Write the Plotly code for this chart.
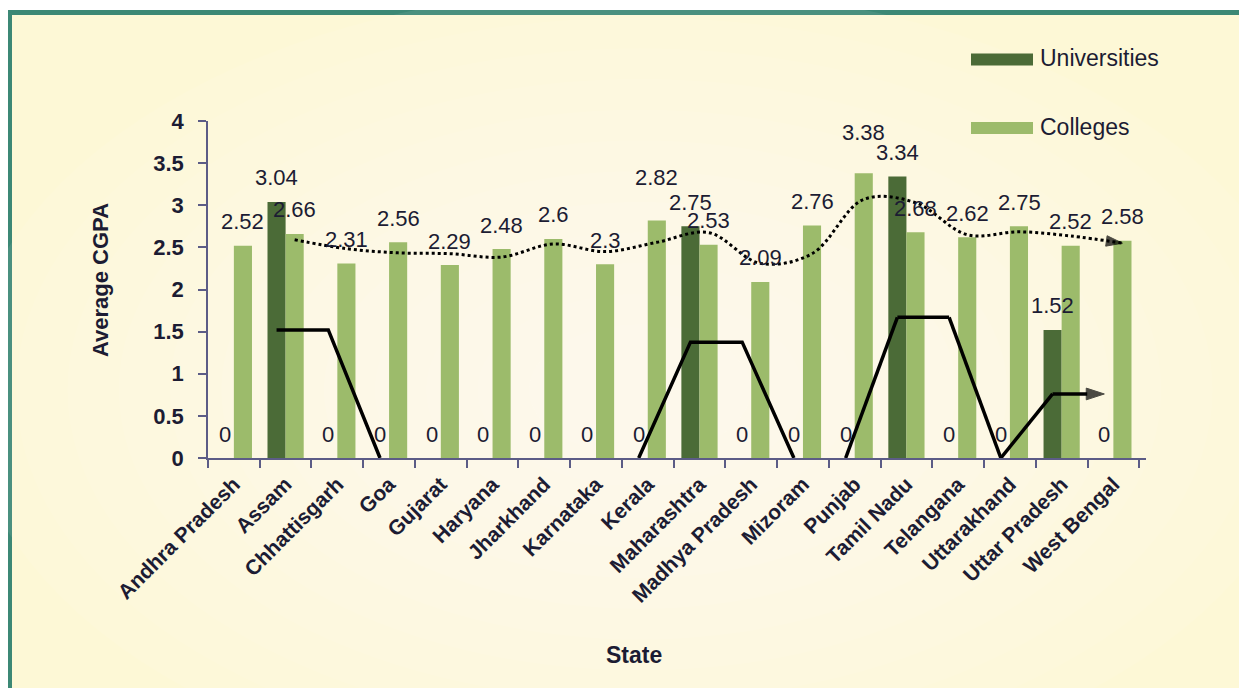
import pandas as pd
import plotly.graph_objects as go

# ---------------- data ----------------
states = ["Andhra Pradesh", "Assam", "Chhattisgarh", "Goa", "Gujarat", "Haryana",
          "Jharkhand", "Karnataka", "Kerala", "Maharashtra", "Madhya Pradesh",
          "Mizoram", "Punjab", "Tamil Nadu", "Telangana", "Uttarakhand",
          "Uttar Pradesh", "West Bengal"]
universities = [0, 3.04, 0, 0, 0, 0, 0, 0, 0, 2.75, 0, 0, 0, 3.34, 0, 0, 1.52, 0]
colleges = [2.52, 2.66, 2.31, 2.56, 2.29, 2.48, 2.6, 2.3, 2.82, 2.53, 2.09,
            2.76, 3.38, 2.68, 2.62, 2.75, 2.52, 2.58]
y_ticks = [0, 0.5, 1, 1.5, 2, 2.5, 3, 3.5, 4]
series_names = ["Universities", "Colleges"]

# 2-period moving-average trendlines
uni_ma = pd.Series(universities).rolling(2).mean()
col_ma = pd.Series(colleges).rolling(2).mean()


def to_list(s):
    return [None if pd.isna(v) else float(v) for v in s]


# ---------------- layout constants ----------------
OFF = 8                      # page margin of the html body
W, H = 1247 - OFF, 688 - OFF
ML, MR, MT, MB = 200, 101, 113, 230
PW, PH = W - ML - MR, H - MT - MB
BARGAP = 0.3
n = len(states)
cat_w = PW / n
bar_w = cat_w * (1 - BARGAP) / 2
shift = bar_w / 2
LABEL_LIFT = 24
extra_lift_colleges = {"Kerala": 19, "Punjab": 17}   # labels nudged up to avoid overlap

DARK = "#4b6b37"
LIGHT = "#9cbb6b"
INK = "#1c1c33"
AXIS = "#5c5c86"
FRAME = "#3c8875"
CREAM = "#fdf8d6"
FONT = "Liberation Sans, Arial, sans-serif"


def px2x(px):   # page pixel -> paper x
    return (px - OFF - ML) / PW


def py2y(py):   # page pixel -> paper y
    return (H - MB - (py - OFF)) / PH


fig = go.Figure()
fig.add_trace(go.Bar(x=states, y=universities, name=series_names[0], marker_color=DARK,
                     marker_line_width=0, offsetgroup="u", showlegend=False))
fig.add_trace(go.Bar(x=states, y=colleges, name=series_names[1], marker_color=LIGHT,
                     marker_line_width=0, offsetgroup="c", showlegend=False))


# Universities trendline: split into runs so flat 0-to-0 stretches along the axis are not drawn
def runs_of(vals):
    runs, cur = [], []
    for i, v in enumerate(vals):
        if v is None:
            if cur:
                runs.append(cur)
            cur = []
            continue
        if cur and vals[cur[-1]] == 0 and v == 0:
            runs.append(cur)
            cur = [i]
        else:
            cur.append(i)
    if cur:
        runs.append(cur)
    return [r for r in runs if len(r) > 1]


ARROW = 19
uni_vals = to_list(uni_ma)
for r in runs_of(uni_vals):
    yv = [uni_vals[i] if i in r else None for i in range(n)]
    sizes = [ARROW if i == n - 1 else 0 for i in range(n)]
    fig.add_trace(go.Scatter(x=states, y=yv, mode="lines+markers",
                             line=dict(color="black", width=3.5),
                             marker=dict(symbol="arrow", angleref="previous", size=sizes,
                                         color="black", line=dict(width=1, color="black")),
                             offsetgroup="u", showlegend=False, hoverinfo="skip"))

arrow_sizes = [ARROW - 2 if i == n - 1 else 0 for i in range(n)]
fig.add_trace(go.Scatter(x=states, y=to_list(col_ma), mode="lines+markers",
                         line=dict(color="black", width=3, dash="dot", shape="spline"),
                         marker=dict(symbol="arrow", angleref="previous", size=arrow_sizes,
                                     color="black", line=dict(width=1, color="black")),
                         offsetgroup="c", showlegend=False, hoverinfo="skip"))

annotations = []
for i, s in enumerate(states):
    annotations.append(dict(x=s, y=universities[i], text=f"{universities[i]:g}", showarrow=False,
                            xshift=-shift, yshift=LABEL_LIFT,
                            font=dict(size=22, color=INK, family=FONT)))
    annotations.append(dict(x=s, y=colleges[i], text=f"{colleges[i]:g}", showarrow=False,
                            xshift=shift, yshift=LABEL_LIFT + extra_lift_colleges.get(s, 0),
                            font=dict(size=22, color=INK, family=FONT)))

# axis titles
annotations.append(dict(xref="paper", yref="paper", x=px2x(100), y=py2y(280), text="Average CGPA",
                        textangle=-90, showarrow=False, xanchor="center", yanchor="middle",
                        font=dict(size=22, color=INK, family=FONT, weight="bold")))
annotations.append(dict(xref="paper", yref="paper", x=px2x(634), y=py2y(655), text="State",
                        showarrow=False, xanchor="center", yanchor="middle",
                        font=dict(size=23, color=INK, family=FONT, weight="bold")))

# background: frame + soft radial lightening
shapes = [dict(type="rect", xref="paper", yref="paper", layer="below",
               x0=px2x(9.5), x1=1.4, y0=-1.2, y1=py2y(12.5),
               fillcolor=CREAM, line=dict(color=FRAME, width=5))]
cx, cy = 640, 390
steps = 12
for k in range(steps):
    f = 1 - k / steps
    rx, ry = 615 * f + 60, 368 * f + 35
    shapes.append(dict(type="circle", xref="paper", yref="paper", layer="below",
                       x0=px2x(cx - rx), x1=px2x(cx + rx), y0=py2y(cy + ry), y1=py2y(cy - ry),
                       fillcolor="white", opacity=0.075, line_width=0))

# legend (manual, wide swatches)
for name, col, ycen in [(series_names[0], DARK, 59.5), (series_names[1], LIGHT, 128)]:
    shapes.append(dict(type="rect", xref="paper", yref="paper",
                       x0=px2x(971), x1=px2x(1033), y0=py2y(ycen + 6), y1=py2y(ycen - 6),
                       fillcolor=col, line_width=0))
    annotations.append(dict(xref="paper", yref="paper", x=px2x(1038), y=py2y(ycen - 1), text=name,
                            xanchor="left", yanchor="middle", showarrow=False,
                            font=dict(size=23, color=INK, family=FONT)))

fig.update_layout(
    width=W, height=H,
    margin=dict(l=ML, r=MR, t=MT, b=MB, autoexpand=False),
    paper_bgcolor="white", plot_bgcolor="rgba(0,0,0,0)",
    barmode="group", bargap=BARGAP, bargroupgap=0,
    scattermode="group", scattergap=BARGAP,
    showlegend=False,
    font=dict(family=FONT, color=INK),
    shapes=shapes, annotations=annotations,
    xaxis=dict(type="category", tickson="boundaries", ticks="outside", ticklen=8,
               tickcolor=AXIS, tickwidth=1.5, showline=True, linecolor=AXIS, linewidth=1.5,
               tickangle=-45, showgrid=False, ticklabelstandoff=4,
               tickfont=dict(size=21, color=INK, family=FONT, weight="bold")),
    yaxis=dict(range=[0, 4], tickvals=y_ticks, ticks="outside", ticklen=8, tickcolor=AXIS,
               tickwidth=1.5, showline=True, linecolor=AXIS, linewidth=1.5, showgrid=False,
               zeroline=False, ticklabelstandoff=10,
               tickfont=dict(size=22, color=INK, family=FONT, weight="bold")),
)

fig.write_html("out.html")
